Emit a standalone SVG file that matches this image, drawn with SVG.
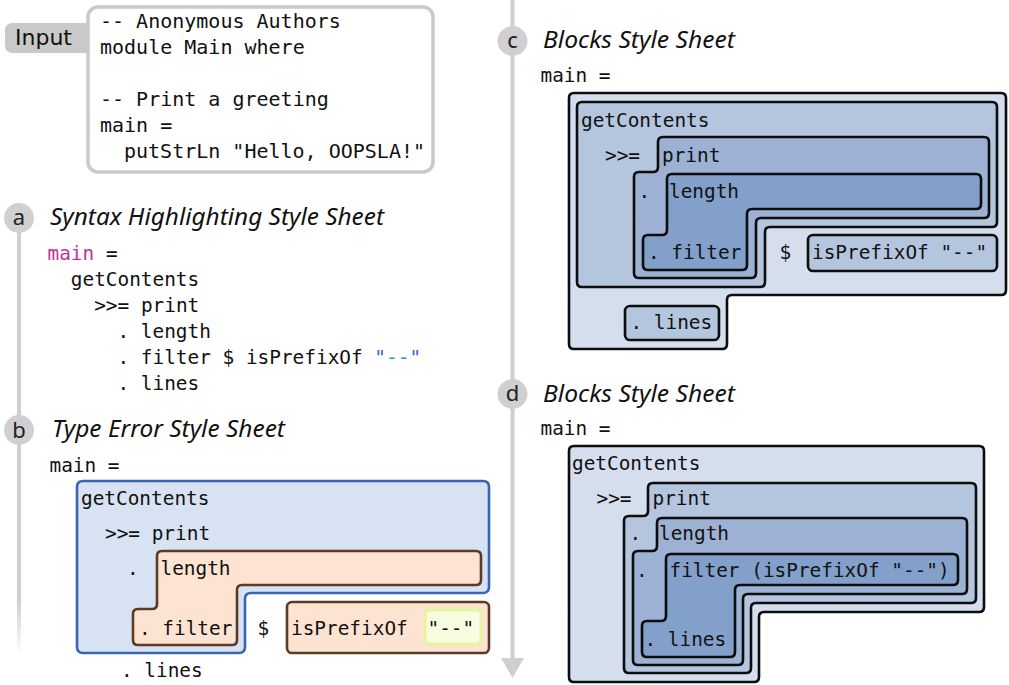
<svg xmlns="http://www.w3.org/2000/svg" width="1009" height="685" viewBox="0 0 1009 685">
<defs>
<linearGradient id="fade" gradientUnits="userSpaceOnUse" x1="0" y1="600" x2="0" y2="655">
<stop offset="0" stop-color="#cfcfcf" stop-opacity="1"/>
<stop offset="1" stop-color="#cfcfcf" stop-opacity="0"/>
</linearGradient>
<marker id="arrow" markerWidth="6" markerHeight="5" refX="0.5" refY="2.5" orient="auto" markerUnits="strokeWidth">
<path d="M0,0 L5.5,2.5 L0,5 Z" fill="#cfcfcf"/>
</marker>
</defs>
<style>
.code{font-family:"DejaVu Sans Mono",monospace;font-size:19.4px;fill:#111}
.inp{font-family:"DejaVu Sans Mono",monospace;font-size:20px;fill:#111}
.title{font-family:"Noto Sans","Open Sans",sans-serif;font-style:italic;font-size:23px;fill:#111}
.badge{fill:#d0d0d0}
.badgetxt{font-family:"Noto Sans","DejaVu Sans",sans-serif;font-size:22px;fill:#222;text-anchor:middle}
.blk{stroke:#0d0d0d;stroke-width:2.6}
.l1{fill:#d5deed}
.l2{fill:#b4c5de}
.l3{fill:#9cb1d3}
.l4{fill:#82a0c9}
.err{fill:#fde4d2;stroke:#5b3b24;stroke-width:2.6}
</style>
<rect width="1009" height="685" fill="#ffffff"/>

<g id="connectors">
<line x1="19" y1="218" x2="19" y2="655" stroke="url(#fade)" stroke-width="4"/>
<line x1="512.5" y1="0" x2="512.5" y2="660" stroke="#cfcfcf" stroke-width="4"/>
<path d="M501,658 L524,658 L512.5,678 Z" fill="#cfcfcf"/>
</g>

<g id="input">
<path d="M13,23 H100 V53 H13 Q5,53 5,45 V31 Q5,23 13,23 Z" fill="#c9c9c9"/>
<text x="15" y="45" font-family="DejaVu Sans, sans-serif" font-size="22" fill="#111">Input</text>
<rect x="88" y="7" width="345" height="165" rx="10" fill="#ffffff" stroke="#c9c9c9" stroke-width="3.5"/>
<text class="inp" x="100" y="28">-- Anonymous Authors</text>
<text class="inp" x="100" y="54">module Main where</text>
<text class="inp" x="100" y="106">-- Print a greeting</text>
<text class="inp" x="100" y="132">main =</text>
<text class="inp" x="124" y="158">putStrLn "Hello, OOPSLA!"</text>
</g>

<g id="section-a">
<circle class="badge" cx="19" cy="218" r="15"/>
<text class="badgetxt" x="19" y="225">a</text>
<text class="title" x="50" y="225" textLength="334" lengthAdjust="spacingAndGlyphs">Syntax Highlighting Style Sheet</text>
<text class="code" x="47.5" y="260"><tspan fill="#c4309b">main</tspan> =</text>
<text class="code" x="70.8" y="286">getContents</text>
<text class="code" x="94.2" y="312">&gt;&gt;= print</text>
<text class="code" x="117.5" y="338">. length</text>
<text class="code" x="117.5" y="364">. filter $ isPrefixOf <tspan fill="#3a5ed6">"</tspan><tspan fill="#1a9fa6">--</tspan><tspan fill="#3a5ed6">"</tspan></text>
<text class="code" x="117.5" y="390">. lines</text>
</g>

<g id="section-b">
<circle class="badge" cx="19" cy="430" r="15"/>
<text class="badgetxt" x="19" y="438">b</text>
<text class="title" x="52" y="437" textLength="233" lengthAdjust="spacingAndGlyphs">Type Error Style Sheet</text>
<text class="code" x="49.5" y="472">main =</text>
<path d="M83,481 H483 Q489,481 489,487 V587 Q489,593 483,593 H251 Q245,593 245,599 V647 Q245,653 239,653 H83 Q77,653 77,647 V487 Q77,481 83,481 Z" fill="#d7e2f3" stroke="#3c64b4" stroke-width="2.6"/>
<text class="code" x="81" y="505">getContents</text>
<text class="code" x="105" y="540">&gt;&gt;= print</text>
<path class="err" d="M162,551 H476 Q481,551 481,556 V580 Q481,585 476,585 H242 Q237,585 237,590 V640 Q237,645 232,645 H138 Q133,645 133,640 V614 Q133,609 138,609 H152 Q157,609 157,604 V556 Q157,551 162,551 Z"/>
<text class="code" x="127" y="575">.</text>
<text class="code" x="160.5" y="575">length</text>
<text class="code" x="139" y="635">. filter</text>
<text class="code" x="257.5" y="635">$</text>
<rect class="err" x="287" y="602" width="202" height="51" rx="5"/>
<text class="code" x="291" y="635">isPrefixOf</text>
<rect x="425" y="610" width="56" height="34" rx="4" fill="#f8fde2" stroke="#e4f59c" stroke-width="3"/>
<text class="code" x="427.5" y="635">"--"</text>
<text class="code" x="121" y="677">. lines</text>
</g>

<g id="section-c">
<circle class="badge" cx="512.5" cy="41" r="15"/>
<text class="badgetxt" x="512.5" y="48">c</text>
<text class="title" x="543" y="48" textLength="192" lengthAdjust="spacingAndGlyphs">Blocks Style Sheet</text>
<text class="code" x="540.5" y="82">main =</text>
<path class="blk l1" d="M574,93 H1001 Q1006,93 1006,98 V290 Q1006,295 1001,295 H732 Q727,295 727,300 V344 Q727,349 722,349 H574 Q569,349 569,344 V98 Q569,93 574,93 Z"/>
<path class="blk l2" d="M582,102 H992 Q997,102 997,107 V222 Q997,227 992,227 H770 Q765,227 765,232 V282 Q765,287 760,287 H582 Q577,287 577,282 V107 Q577,102 582,102 Z"/>
<path class="blk l3" d="M663,137 H984 Q989,137 989,142 V213 Q989,218 984,218 H761 Q756,218 756,223 V273 Q756,278 751,278 H639 Q634,278 634,273 V177 Q634,172 639,172 H653 Q658,172 658,167 V142 Q658,137 663,137 Z"/>
<path class="blk l4" d="M672,174 H976 Q981,174 981,179 V204 Q981,209 976,209 H752 Q747,209 747,214 V265 Q747,270 742,270 H648 Q643,270 643,265 V240 Q643,235 648,235 H662 Q667,235 667,230 V179 Q667,174 672,174 Z"/>
<rect class="blk l2" x="808" y="235" width="189" height="36" rx="5"/>
<rect class="blk l2" x="625" y="306" width="94" height="34" rx="5"/>
<text class="code" x="581" y="127">getContents</text>
<text class="code" x="605" y="162">&gt;&gt;=</text>
<text class="code" x="662" y="162">print</text>
<text class="code" x="638.5" y="198">.</text>
<text class="code" x="669" y="198">length</text>
<text class="code" x="648" y="259">. filter</text>
<text class="code" x="779.5" y="259">$</text>
<text class="code" x="812" y="259">isPrefixOf "--"</text>
<text class="code" x="630.5" y="329">. lines</text>
</g>

<g id="section-d">
<circle class="badge" cx="512.5" cy="394" r="15"/>
<text class="badgetxt" x="512.5" y="401">d</text>
<text class="title" x="543" y="402" textLength="192" lengthAdjust="spacingAndGlyphs">Blocks Style Sheet</text>
<text class="code" x="540.5" y="435">main =</text>
<path class="blk l1" d="M574,446 H979 Q984,446 984,451 V607 Q984,612 979,612 H764 Q759,612 759,617 V677 Q759,682 754,682 H574 Q569,682 569,677 V451 Q569,446 574,446 Z"/>
<path class="blk l2" d="M653,483 H971 Q976,483 976,488 V598 Q976,603 971,603 H756 Q751,603 751,608 V668 Q751,673 746,673 H629 Q624,673 624,668 V521 Q624,516 629,516 H643 Q648,516 648,511 V488 Q648,483 653,483 Z"/>
<path class="blk l3" d="M662,518 H962 Q967,518 967,523 V589 Q967,594 962,594 H748 Q743,594 743,599 V660 Q743,665 738,665 H638 Q633,665 633,660 V556 Q633,551 638,551 H652 Q657,551 657,546 V523 Q657,518 662,518 Z"/>
<path class="blk l4" d="M671,554 H953 Q958,554 958,559 V580 Q958,585 953,585 H740 Q735,585 735,590 V652 Q735,657 730,657 H647 Q642,657 642,652 V626 Q642,621 647,621 H661 Q666,621 666,616 V559 Q666,554 671,554 Z"/>
<text class="code" x="572" y="470">getContents</text>
<text class="code" x="596.5" y="505">&gt;&gt;=</text>
<text class="code" x="652.5" y="505">print</text>
<text class="code" x="629.5" y="540">.</text>
<text class="code" x="659" y="540">length</text>
<text class="code" x="636" y="577">.</text>
<text class="code" x="669.5" y="577">filter (isPrefixOf "--")</text>
<text class="code" x="644.5" y="646">. lines</text>
</g>
</svg>
